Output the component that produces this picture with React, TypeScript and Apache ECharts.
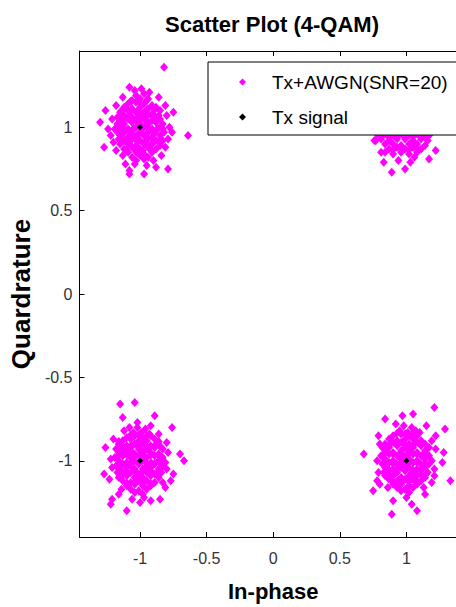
import React, { useEffect, useRef } from 'react';
import * as echarts from 'echarts';

const titleText = 'Scatter Plot (4-QAM)';
const xName = 'In-phase';
const yName = 'Quardrature';
const noisyName = 'Tx+AWGN(SNR=20)';
const txName = 'Tx signal';

const xRange = [-1.455, 1.455];
const yRange = [-1.457, 1.457];
const tickValues = [-1, -0.5, 0, 0.5, 1];

const constellation: number[][] = [[-1, 1], [1, 1], [-1, -1], [1, -1]];

const noisyTopLeft: number[][] = [
  [-1.03, 1.19], [-0.97, 1.2],
  [-1.06, 1.16], [-1.0, 1.17], [-0.94, 1.17],
  [-1.09, 1.14], [-1.03, 1.15], [-0.97, 1.14], [-0.91, 1.13],
  [-1.12, 1.12], [-1.06, 1.11], [-1.0, 1.12], [-0.94, 1.11], [-0.88, 1.12],
  [-1.15, 1.09], [-1.09, 1.1], [-1.03, 1.09], [-0.97, 1.09], [-0.91, 1.08], [-0.85, 1.1],
  [-1.12, 1.07], [-1.06, 1.06], [-1.0, 1.07], [-0.94, 1.07], [-0.88, 1.06], [-1.17, 1.06],
  [-1.15, 1.04], [-1.09, 1.05], [-1.03, 1.04], [-0.97, 1.05], [-0.91, 1.04], [-0.85, 1.05],
  [-1.17, 1.02], [-1.12, 1.02], [-1.06, 1.03], [-1.0, 1.02], [-0.94, 1.02], [-0.88, 1.03], [-0.83, 1.02],
  [-1.15, 1.0], [-1.09, 0.99], [-1.03, 1.0], [-0.97, 1.0], [-0.91, 0.99], [-0.85, 1.0], [-1.19, 0.99],
  [-1.17, 0.97], [-1.12, 0.97], [-1.06, 0.98], [-1.0, 0.97], [-0.94, 0.97], [-0.88, 0.98], [-0.82, 0.97],
  [-1.15, 0.95], [-1.09, 0.94], [-1.03, 0.95], [-0.97, 0.95], [-0.91, 0.94], [-0.85, 0.95],
  [-1.12, 0.92], [-1.06, 0.93], [-1.0, 0.92], [-0.94, 0.93], [-0.88, 0.92], [-1.16, 0.93], [-0.83, 0.92],
  [-1.15, 0.9], [-1.09, 0.9], [-1.03, 0.89], [-0.97, 0.9], [-0.91, 0.9], [-0.85, 0.89],
  [-1.12, 0.87], [-1.06, 0.88], [-1.0, 0.87], [-0.94, 0.88], [-0.88, 0.87],
  [-1.09, 0.85], [-1.03, 0.85], [-0.97, 0.84], [-0.91, 0.85],
  [-1.06, 0.82], [-1.0, 0.83], [-0.94, 0.82],
  [-1.03, 0.8], [-0.97, 0.81],
  [-1.07, 1.155], [-1.01, 1.155], [-0.95, 1.16],
  [-1.13, 1.105], [-1.07, 1.1], [-1.01, 1.105], [-0.95, 1.1], [-0.89, 1.105],
  [-1.14, 1.06], [-1.08, 1.065], [-1.02, 1.06], [-0.96, 1.06], [-0.9, 1.065], [-0.86, 1.07],
  [-1.13, 1.035], [-1.07, 1.04], [-1.01, 1.035], [-0.95, 1.035], [-0.89, 1.04],
  [-1.16, 0.985], [-1.11, 0.985], [-1.05, 0.99], [-0.99, 0.985], [-0.93, 0.985], [-0.87, 0.99], [-0.83, 0.99],
  [-1.13, 0.96], [-1.07, 0.965], [-1.01, 0.96], [-0.95, 0.96], [-0.89, 0.965],
  [-1.14, 0.915], [-1.08, 0.91], [-1.02, 0.915], [-0.96, 0.915], [-0.9, 0.91], [-0.86, 0.915],
  [-1.1, 0.865], [-1.04, 0.865], [-0.98, 0.86], [-0.92, 0.865],
  [-0.82, 1.36], [-0.64, 0.95], [-0.75, 1.09], [-1.3, 1.03], [-1.27, 0.88], [-1.08, 1.24],
  [-1.08, 0.74], [-1.08, 0.72], [-0.97, 0.72], [-0.88, 0.76], [-0.79, 0.75], [-1.04, 0.78],
  [-0.78, 1.0], [-1.26, 1.1], [-1.21, 1.05], [-1.22, 0.95], [-1.2, 0.91], [-1.18, 1.13],
  [-1.13, 1.18], [-0.99, 1.23], [-0.93, 1.21], [-0.86, 1.18], [-0.81, 1.13], [-0.8, 1.07],
  [-0.79, 0.93], [-0.81, 0.88], [-0.84, 0.83], [-0.9, 0.8], [-1.13, 0.83], [-1.18, 0.86],
  [-1.11, 0.78], [-0.95, 0.77], [-1.24, 0.99], [-0.76, 0.97], [-1.04, 1.22],
];

const noisyTopRight: number[][] = [
  [0.93, 1.12], [1.05, 1.15], [0.88, 1.05], [1.0, 1.05], [1.12, 1.06], [0.82, 0.99],
  [0.94, 0.99], [1.06, 1.0], [1.18, 1.0], [0.97, 1.2], [1.1, 1.09], [0.86, 1.1],
  [0.78, 0.96], [0.84, 0.96], [0.9, 0.95], [0.96, 0.96], [1.02, 0.95], [1.08, 0.96], [1.14, 0.95], [1.18, 0.96],
  [0.81, 0.945], [0.87, 0.94], [0.93, 0.945], [0.99, 0.94], [1.05, 0.945], [1.11, 0.94], [1.16, 0.945],
  [0.81, 0.93], [0.87, 0.92], [0.93, 0.93], [0.99, 0.93], [1.05, 0.92], [1.11, 0.93], [1.16, 0.92], [0.76, 0.92],
  [0.84, 0.9], [0.9, 0.9], [0.96, 0.89], [1.02, 0.9], [1.08, 0.9], [1.14, 0.89],
  [0.87, 0.87], [0.93, 0.88], [0.99, 0.87], [1.05, 0.88], [1.11, 0.87],
  [0.9, 0.865], [0.96, 0.87], [1.02, 0.865], [1.08, 0.87],
  [0.84, 0.85], [0.96, 0.85], [1.02, 0.84], [1.08, 0.85], [0.9, 0.84],
  [0.89, 0.73], [0.99, 0.75], [0.83, 0.79], [0.94, 0.8], [1.03, 0.79], [1.06, 0.82],
  [1.17, 0.81], [1.22, 0.86], [0.81, 0.85], [0.77, 0.92],
];

const noisyBottomLeft: number[][] = [
  [-1.02, -0.8], [-0.96, -0.81],
  [-1.05, -0.83], [-0.99, -0.83], [-0.93, -0.84],
  [-1.1, -0.86], [-1.04, -0.85], [-0.98, -0.86], [-0.92, -0.85],
  [-1.13, -0.88], [-1.07, -0.87], [-1.01, -0.88], [-0.95, -0.88], [-0.89, -0.87],
  [-1.16, -0.9], [-1.1, -0.91], [-1.04, -0.9], [-0.98, -0.9], [-0.92, -0.91], [-0.86, -0.9],
  [-1.13, -0.93], [-1.07, -0.92], [-1.01, -0.93], [-0.95, -0.93], [-0.89, -0.92], [-0.83, -0.93], [-1.18, -0.93],
  [-1.16, -0.95], [-1.1, -0.95], [-1.04, -0.96], [-0.98, -0.95], [-0.92, -0.95], [-0.86, -0.96],
  [-1.19, -0.98], [-1.13, -0.97], [-1.07, -0.98], [-1.01, -0.97], [-0.95, -0.98], [-0.89, -0.97], [-0.83, -0.98],
  [-1.16, -1.0], [-1.1, -1.01], [-1.04, -1.0], [-0.98, -1.0], [-0.92, -1.01], [-0.86, -1.0], [-0.81, -1.01],
  [-1.18, -1.03], [-1.13, -1.02], [-1.07, -1.03], [-1.01, -1.02], [-0.95, -1.03], [-0.89, -1.02], [-0.83, -1.03],
  [-1.16, -1.05], [-1.1, -1.04], [-1.04, -1.05], [-0.98, -1.05], [-0.92, -1.04], [-0.86, -1.05],
  [-1.17, -1.07], [-1.13, -1.08], [-1.07, -1.07], [-1.01, -1.08], [-0.95, -1.07], [-0.89, -1.08], [-0.84, -1.07],
  [-1.16, -1.1], [-1.1, -1.09], [-1.04, -1.1], [-0.98, -1.1], [-0.92, -1.09], [-0.86, -1.1],
  [-1.13, -1.12], [-1.07, -1.13], [-1.01, -1.12], [-0.95, -1.12], [-0.89, -1.13],
  [-1.1, -1.15], [-1.04, -1.14], [-0.98, -1.15], [-0.92, -1.15],
  [-1.07, -1.17], [-1.01, -1.18], [-0.95, -1.17],
  [-1.04, -1.19], [-0.98, -1.2],
  [-1.07, -0.845], [-1.01, -0.845], [-0.95, -0.85],
  [-1.16, -0.885], [-0.86, -0.885],
  [-1.13, -0.915], [-1.07, -0.91], [-1.01, -0.915], [-0.95, -0.915], [-0.89, -0.91], [-0.85, -0.915],
  [-1.07, -0.94], [-0.97, -0.94],
  [-1.16, -0.965], [-1.1, -0.965], [-1.04, -0.97], [-0.98, -0.965], [-0.92, -0.965], [-0.86, -0.97],
  [-1.15, -1.015], [-1.07, -1.015], [-1.01, -1.01], [-0.95, -1.015], [-0.89, -1.015], [-0.84, -1.015],
  [-1.14, -1.06], [-1.1, -1.065], [-1.04, -1.065], [-0.98, -1.065], [-0.92, -1.06], [-0.86, -1.065],
  [-1.1, -1.135], [-1.04, -1.13], [-0.98, -1.135], [-0.92, -1.135],
  [-1.15, -0.66], [-1.04, -0.65], [-0.89, -0.73], [-0.76, -0.8], [-0.7, -0.96], [-0.67, -1.0],
  [-1.13, -0.74], [-1.26, -0.92], [-1.27, -1.08], [-1.23, -1.11], [-1.21, -1.23], [-1.22, -1.26],
  [-1.1, -1.3], [-0.85, -1.23], [-0.75, -1.08], [-0.77, -1.12], [-1.16, -1.2], [-1.0, -1.25],
  [-0.92, -1.24], [-0.81, -1.16], [-0.92, -0.79], [-1.08, -0.8], [-1.02, -0.77],
  [-1.2, -0.87], [-1.22, -0.99], [-1.21, -1.04], [-0.8, -0.89], [-0.79, -0.95], [-0.8, -1.05],
  [-0.83, -1.13], [-1.14, -1.17], [-1.06, -1.23], [-1.12, -0.82], [-0.86, -0.84], [-0.97, -1.22],
];

const noisyBottomRight: number[][] = [
  [0.98, -0.79], [1.04, -0.8],
  [0.95, -0.82], [1.01, -0.83], [1.07, -0.82],
  [0.9, -0.85], [0.96, -0.84], [1.02, -0.85], [1.08, -0.85],
  [0.87, -0.87], [0.93, -0.88], [0.99, -0.87], [1.05, -0.87], [1.11, -0.88],
  [0.84, -0.9], [0.9, -0.89], [0.96, -0.89], [1.02, -0.9], [1.08, -0.89], [1.14, -0.9],
  [0.82, -0.92], [0.87, -0.92], [0.93, -0.91], [0.99, -0.92], [1.05, -0.92], [1.11, -0.91], [1.17, -0.92],
  [0.84, -0.94], [0.9, -0.95], [0.96, -0.94], [1.02, -0.94], [1.08, -0.95], [1.14, -0.94],
  [0.81, -0.97], [0.87, -0.96], [0.93, -0.97], [0.99, -0.97], [1.05, -0.96], [1.11, -0.97], [1.17, -0.97],
  [0.84, -0.99], [0.9, -1.0], [0.96, -0.99], [1.02, -0.99], [1.08, -1.0], [1.14, -0.99], [1.19, -1.0],
  [0.82, -1.02], [0.87, -1.01], [0.93, -1.02], [0.99, -1.02], [1.05, -1.01], [1.11, -1.02], [1.17, -1.02],
  [0.84, -1.04], [0.9, -1.05], [0.96, -1.04], [1.02, -1.04], [1.08, -1.05], [1.14, -1.04],
  [0.83, -1.07], [0.87, -1.06], [0.93, -1.07], [0.99, -1.06], [1.05, -1.07], [1.11, -1.06], [1.16, -1.07],
  [0.84, -1.09], [0.9, -1.09], [0.96, -1.1], [1.02, -1.09], [1.08, -1.09], [1.14, -1.1],
  [0.87, -1.11], [0.93, -1.12], [0.99, -1.11], [1.05, -1.11], [1.11, -1.12],
  [0.9, -1.14], [0.96, -1.14], [1.02, -1.15], [1.08, -1.14],
  [0.93, -1.16], [0.99, -1.17], [1.05, -1.16],
  [0.96, -1.18], [1.02, -1.19],
  [0.93, -0.835], [0.99, -0.84], [1.05, -0.835],
  [0.87, -0.905], [0.93, -0.9], [0.99, -0.905], [1.05, -0.905], [1.11, -0.9],
  [0.84, -0.955], [0.9, -0.96], [0.96, -0.955], [1.02, -0.955], [1.08, -0.96], [1.14, -0.955],
  [0.85, -1.01], [0.9, -1.015], [0.96, -1.01], [1.02, -1.015], [1.08, -1.01], [1.14, -1.015],
  [0.87, -1.055], [0.93, -1.05], [0.99, -1.055], [1.05, -1.055], [1.11, -1.05],
  [0.87, -1.08], [1.11, -1.08],
  [0.9, -1.125], [0.96, -1.13], [1.02, -1.125], [1.08, -1.125],
  [1.21, -0.68], [0.84, -0.75], [0.97, -0.73], [1.05, -0.72], [1.29, -0.81], [0.68, -0.96],
  [1.28, -0.95], [1.33, -1.12], [0.75, -1.18], [0.9, -1.24], [0.89, -1.32], [1.04, -1.26],
  [1.08, -1.3], [1.14, -1.2], [1.15, -0.79], [0.79, -0.85], [1.22, -0.85], [1.27, -1.01],
  [0.79, -1.07], [0.78, -1.12], [1.21, -1.09],
  [1.19, -0.88], [1.22, -0.93], [1.21, -1.05], [1.19, -1.13], [1.13, -1.16], [0.8, -0.9],
  [0.78, -1.0], [0.8, -1.14], [0.86, -1.16], [0.92, -0.78], [1.1, -0.83], [1.0, -1.22],
];

const FONT = "'Liberation Sans', Arial, Helvetica, sans-serif";

const isTick = (v: number) => tickValues.some((t) => Math.abs(t - v) < 1e-9);
const fmt = (v: number) => (isTick(v) ? String(v) : '');

export default function App() {
  const ref = useRef<HTMLDivElement>(null);
  useEffect(() => {
    document.body.style.margin = '0';
    document.body.style.overflow = 'hidden';
    document.documentElement.style.overflow = 'hidden';
    const chart = echarts.init(ref.current!, null, { renderer: 'svg' });
    const noisy = [...noisyTopLeft, ...noisyTopRight, ...noisyBottomLeft, ...noisyBottomRight];
    const axisLine = { show: true, onZero: false, lineStyle: { color: '#000', width: 1 } };
    const axisTick = { show: true, inside: true, length: 5, lineStyle: { color: '#000', width: 1 } };
    const labelStyle = { fontFamily: FONT, fontSize: 16, color: '#333' };
    chart.setOption({
      animation: false,
      backgroundColor: '#fff',
      title: {
        text: titleText,
        left: 'center',
        top: 13,
        padding: 0,
        textStyle: { fontFamily: FONT, fontSize: 22, fontWeight: 'bold', color: '#000' },
      },
      legend: {
        orient: 'vertical',
        left: 208,
        top: 62,
        padding: [8, 14, 6, 31],
        itemGap: 11,
        itemWidth: 7,
        itemHeight: 7,
        backgroundColor: '#fff',
        borderColor: '#000',
        borderWidth: 1,
        borderRadius: 0,
        textStyle: { fontFamily: FONT, fontSize: 19, lineHeight: 24, color: '#000', padding: [0, 0, 0, 21] },
        data: [
          { name: noisyName, icon: 'diamond' },
          { name: txName, icon: 'diamond' },
        ],
      },
      grid: { left: 77, right: 77, top: 51, bottom: 62, containLabel: false },
      xAxis: [
        {
          type: 'value',
          min: xRange[0],
          max: xRange[1],
          position: 'bottom',
          name: xName,
          nameLocation: 'middle',
          nameGap: 43,
          nameTextStyle: { fontFamily: FONT, fontSize: 22, fontWeight: 'bold', color: '#000' },
          axisLine,
          axisTick,
          axisLabel: { ...labelStyle, margin: 13, formatter: fmt, showMinLabel: false, showMaxLabel: false },
          splitLine: { show: false },
        },
        {
          type: 'value',
          min: xRange[0],
          max: xRange[1],
          position: 'top',
          axisLine,
          axisTick,
          axisLabel: { show: false },
          splitLine: { show: false },
        },
      ],
      yAxis: [
        {
          type: 'value',
          min: yRange[0],
          max: yRange[1],
          position: 'left',
          name: yName,
          nameLocation: 'middle',
          nameRotate: 90,
          nameGap: 40,
          nameTextStyle: { fontFamily: FONT, fontSize: 26, fontWeight: 'bold', color: '#000' },
          axisLine,
          axisTick,
          axisLabel: { ...labelStyle, margin: 7, formatter: fmt, showMinLabel: false, showMaxLabel: false },
          splitLine: { show: false },
        },
        {
          type: 'value',
          min: yRange[0],
          max: yRange[1],
          position: 'right',
          axisLine,
          axisTick,
          axisLabel: { show: false },
          splitLine: { show: false },
        },
      ],
      series: [
        {
          name: noisyName,
          type: 'scatter',
          xAxisIndex: 0,
          yAxisIndex: 0,
          symbol: 'diamond',
          symbolSize: [8, 9],
          itemStyle: { color: '#ff00ff', opacity: 1 },
          data: noisy,
          z: 2,
        },
        {
          name: txName,
          type: 'scatter',
          xAxisIndex: 0,
          yAxisIndex: 0,
          symbol: 'diamond',
          symbolSize: 6,
          itemStyle: { color: '#000', opacity: 1 },
          data: constellation,
          z: 3,
        },
      ],
    });
    return () => chart.dispose();
  }, []);
  return (
    <div
      ref={ref}
      style={{ position: 'fixed', left: 0, top: 0, width: 544, height: 607, background: '#fff' }}
    />
  );
}
